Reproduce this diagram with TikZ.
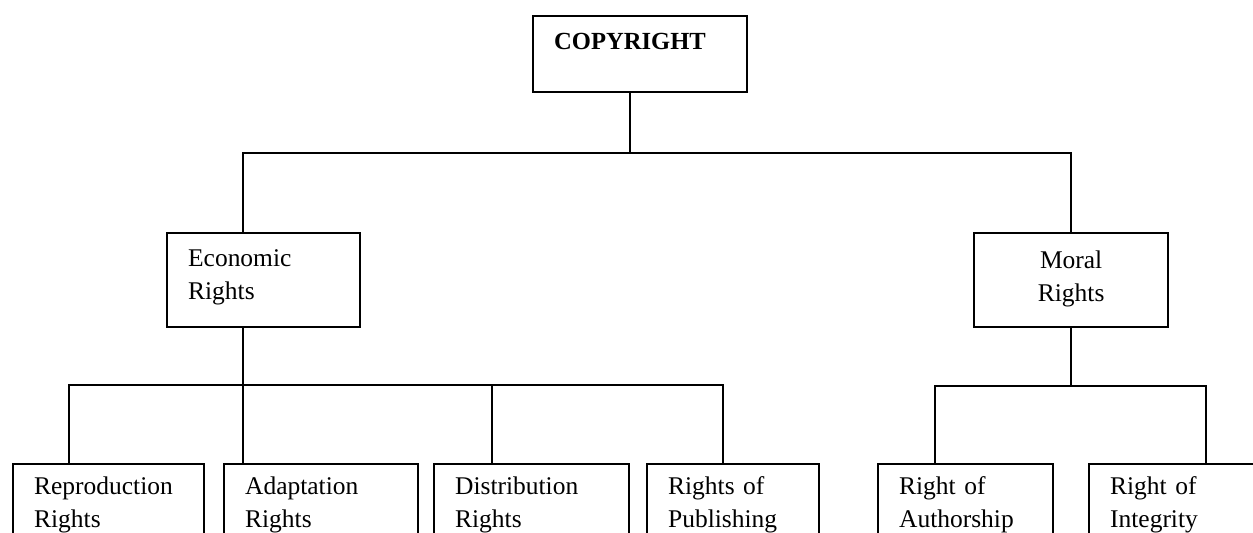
\documentclass[tikz,border=0pt]{standalone}
\usepackage{fontspec}
\setmainfont{Liberation Serif}
\usetikzlibrary{positioning}

\begin{document}
\begin{tikzpicture}[x=0.02cm,y=-0.02cm,line width=1.3pt,
 box/.style={draw,anchor=north west,align=left,inner xsep=0.42cm,inner ysep=0.1cm,
  font=\fontsize{14.5}{18.8}\selectfont,text height=0.56cm},
 top/.style={box,font=\fontsize{14}{17}\selectfont\bfseries,text width=3.44cm,text depth=0.76cm},
 mid/.style={box,text width=3.02cm,text depth=1.12cm},
 leaf/.style={box,text height=0.5cm,text depth=2cm}]
\useasboundingbox (0,0) rectangle (1253,533);
\clip (0,0) rectangle (1253,533);
\node[top] (copy) at (532,15) {COPYRIGHT};
\node[mid] (econ) at (166,232) {Economic\\Rights};
\node[mid,align=center,text width=3.04cm,text height=0.6cm,text depth=1.08cm] (moral) at (973,232) {Moral\\Rights};
\node[leaf,text width=2.98cm] (repr) at (12,463) {Reproduction\\Rights};
\node[leaf,text width=3.04cm] (adap) at (223,463) {Adaptation\\Rights};
\node[leaf,text width=3.06cm] (dist) at (433,463) {Distribution\\Rights};
\node[leaf,text width=2.60cm] (publ) at (646,463) {Rights of\\Publishing};
\node[leaf,text width=2.66cm] (auth) at (877,463) {Right of\\Authorship};
\node[leaf,text width=3.00cm] (inte) at (1088,463) {Right of\\Integrity};
\coordinate (t) at (630,153);
\coordinate (e) at (243,385);
\coordinate (e1) at (69,385);
\coordinate (e3) at (492,385);
\coordinate (e4) at (723,385);
\coordinate (m) at (1071,386);
\coordinate (m1) at (935,386);
\coordinate (m2) at (1206,386);
\draw (copy.south -| t) -- (t);
\draw (econ.north -| e) |- (t) -| (moral.north -| m);
\draw (econ.south -| e) -- (adap.north -| e);
\draw (repr.north -| e1) |- (e4) -- (publ.north -| e4);
\draw (e3) -- (dist.north -| e3);
\draw (moral.south -| m) -- (m);
\draw (auth.north -| m1) |- (m) -| (inte.north -| m2);
\end{tikzpicture}
\end{document}
